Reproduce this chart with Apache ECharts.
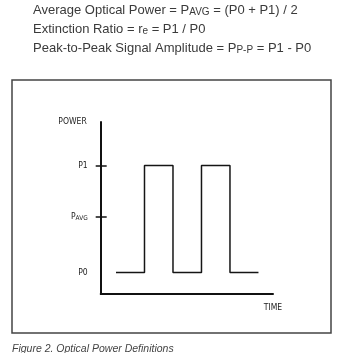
<!DOCTYPE html>
<html>
<head>
<meta charset="utf-8">
<style>
  html, body { margin: 0; padding: 0; background: #fff; }
  #chart { width: 355px; height: 353px; }
</style>
<script src="https://cdn.jsdelivr.net/npm/echarts@6/dist/echarts.min.js"></script>
</head>
<body>
<div id="chart"></div>
<script>
// 时间点与功率电平 (阶梯线)
var timeSteps = [0, 1, 2, 3, 4, 5];
var powerLevels = [1, 3, 1, 3, 1, 1];

// 纵轴刻度: P0, PAVG, P1
var levelValues = [1, 2.04, 3];
var levelLabels = ['P0', '{p|P}{s|AVG}', 'P1'];
var tickValues = [2.04, 3];

// 公式文字
var formulaLines = [
    'Average Optical Power = {p|P}{s|AVG} = (P0 + P1) / 2',
    'Extinction Ratio = {p|r}{s|e} = P1 / P0',
    'Peak-to-Peak Signal Amplitude = {p|P}{s|P-P} = P1 - P0'
];
var captionText = 'Figure 2. Optical Power Definitions';

var narrow = "'Liberation Sans Narrow', 'DejaVu Sans Condensed', sans-serif";
var sans = "'Liberation Sans', Arial, sans-serif";

var seriesData = [];
for (var i = 0; i < timeSteps.length; i++) {
    seriesData.push([timeSteps[i], powerLevels[i]]);
}

var graphics = [{
    type: 'rect',
    shape: { x: 12, y: 80, width: 319, height: 253 },
    style: { fill: 'none', stroke: '#444', lineWidth: 1.5 },
    silent: true
}, {
    type: 'text',
    left: 12,
    top: 344,
    style: {
        text: captionText,
        font: 'italic 10.5px ' + sans,
        fill: '#444'
    }
}];
for (var j = 0; j < formulaLines.length; j++) {
    graphics.push({
        type: 'text',
        left: 33,
        top: 3.5 + j * 19,
        style: {
            text: formulaLines[j],
            fontFamily: sans,
            fontSize: 13,
            fill: '#3a3a3a',
            rich: {
                p: { fontFamily: sans, fontSize: 13, fill: '#3a3a3a' },
                s: { fontFamily: sans, fontSize: 10, fill: '#3a3a3a', verticalAlign: 'bottom', padding: [4, 0, 0, 0] }
            }
        }
    });
}

var myChart = echarts.init(document.getElementById('chart'));
var option = {
    animation: false,
    grid: { left: 100.7, right: 82, top: 122, bottom: 59 },
    graphic: graphics,
    xAxis: {
        type: 'value',
        min: -0.537,
        max: 5.51,
        name: 'TIME',
        nameLocation: 'end',
        nameGap: 0,
        nameTextStyle: {
            fontFamily: narrow, fontSize: 8.5, color: '#222',
            align: 'center', verticalAlign: 'top', padding: [9, 0, 0, 0]
        },
        axisLine: { show: true, onZero: false, lineStyle: { color: '#111', width: 2 } },
        axisTick: { show: false },
        axisLabel: { show: false },
        splitLine: { show: false }
    },
    yAxis: [{
        type: 'value',
        min: 0.6,
        max: 3.81,
        name: 'POWER',
        nameLocation: 'end',
        nameGap: 0,
        nameTextStyle: {
            fontFamily: narrow, fontSize: 8.5, color: '#222',
            align: 'right', verticalAlign: 'middle', padding: [0, 14, 0, 0]
        },
        axisLine: { show: true, onZero: false, lineStyle: { color: '#111', width: 2 } },
        axisTick: { show: true, inside: true, length: 6, customValues: tickValues, lineStyle: { color: '#111', width: 1.5 } },
        axisLabel: {
            show: true,
            margin: 13,
            customValues: levelValues,
            fontFamily: narrow,
            fontSize: 8.5,
            color: '#222',
            formatter: function (v) {
                var idx = levelValues.indexOf(v);
                return idx >= 0 ? levelLabels[idx] : '';
            },
            rich: {
                p: { fontFamily: narrow, fontSize: 8.5, color: '#222' },
                s: { fontFamily: narrow, fontSize: 6.5, color: '#222', verticalAlign: 'bottom', padding: [3, 0, 0, 0] }
            }
        },
        splitLine: { show: false }
    }, {
        type: 'value',
        min: 0.6,
        max: 3.81,
        position: 'left',
        axisLine: { show: false, onZero: false },
        axisTick: { show: true, inside: false, length: 5, customValues: tickValues, lineStyle: { color: '#111', width: 1.5 } },
        axisLabel: { show: false },
        splitLine: { show: false }
    }],
    series: [{
        type: 'line',
        step: 'end',
        data: seriesData,
        symbol: 'none',
        lineStyle: { color: '#151515', width: 1.5 },
        silent: true
    }]
};
myChart.setOption(option);
</script>
</body>
</html>
